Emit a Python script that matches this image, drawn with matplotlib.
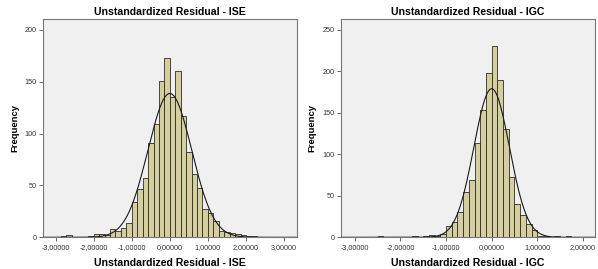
"""
Histograms of unstandardized residuals (ISE and IGC) with normal curves
"""
import numpy as np
import matplotlib
matplotlib.use("Agg")
import matplotlib.pyplot as plt
from matplotlib.ticker import FuncFormatter

plt.rcParams['font.family'] = ['Liberation Sans', 'DejaVu Sans']

# ISE residuals: bins of width 1/7 starting at -20/7
ISE_FIRST_BIN = -20
ISE_BIN_WIDTH = 1 / 7
ISE_COUNTS = [1, 2, 0, 0, 0, 1, 3, 3, 2, 8, 6, 9, 14, 34, 47, 57, 91, 109,
              151, 173, 135, 160, 117, 82, 61, 48, 27, 23, 16, 6, 5, 4, 3, 2,
              1, 1]
ISE_MEAN = 0.0
ISE_SD = 0.575
ISE_XTICKS = [-3, -2, -1, 0, 1, 2, 3]
ISE_YTICKS = [0, 50, 100, 150, 200]

# IGC residuals: bins of width 0.125 starting at -2.5
IGC_FIRST_BIN = -20
IGC_BIN_WIDTH = 0.125
IGC_COUNTS = [1, 0, 0, 0, 0, 0, 2, 0, 2, 3, 2, 4, 14, 19, 30, 55, 69, 114,
              153, 198, 231, 190, 131, 73, 40, 27, 16, 9, 1, 1, 0, 1, 0, 1]
IGC_MEAN = 0.0
IGC_SD = 0.39
IGC_XTICKS = [-3, -2, -1, 0, 1, 2]
IGC_YTICKS = [0, 50, 100, 150, 200, 250]

N_CASES = 1400

BAR_COLOR = '#d4cf9d'
PANEL_BG = '#f0f0f0'


def fmt_x(v, pos):
    return f"{v:.5f}".replace('.', ',')


def draw_hist(ax, first, width, counts, mean, sd, title, xlim, ylim, xticks, yticks):
    counts = np.array(counts, dtype=float)
    lefts = (first + np.arange(len(counts))) * width
    keep = counts > 0
    ax.bar(lefts[keep], counts[keep], width=width, align='edge',
           color=BAR_COLOR, edgecolor='#2b2b2b', linewidth=0.6, zorder=2)
    xs = np.linspace(xlim[0], xlim[1], 400)
    ys = N_CASES * width / (sd * np.sqrt(2 * np.pi)) * np.exp(-0.5 * ((xs - mean) / sd) ** 2)
    ax.plot(xs, ys, color='#1a1a1a', linewidth=0.8, zorder=3)

    ax.set_facecolor(PANEL_BG)
    ax.set_xlim(*xlim)
    ax.set_ylim(*ylim)
    ax.set_xticks(xticks)
    ax.set_yticks(yticks)
    ax.xaxis.set_major_formatter(FuncFormatter(fmt_x))
    ax.tick_params(axis='both', length=3, width=0.6, color='#555555',
                   labelsize=5.2, labelcolor='#333333', pad=1.5)
    for sp in ax.spines.values():
        sp.set_color('#777777')
        sp.set_linewidth(0.8)
    ax.set_title(title, fontsize=7.6, fontweight='bold', pad=3)
    ax.set_xlabel(title, fontsize=7.6, fontweight='bold', labelpad=5)
    ax.set_ylabel('Frequency', fontsize=6.8, fontweight='bold', labelpad=4)


fig = plt.figure(figsize=(5.98, 2.69), dpi=100)
ax1 = fig.add_axes([0.0719, 0.1178, 0.4242, 0.8116])
ax2 = fig.add_axes([0.5697, 0.1178, 0.4248, 0.8116])

draw_hist(ax1, ISE_FIRST_BIN, ISE_BIN_WIDTH, ISE_COUNTS, ISE_MEAN, ISE_SD,
          'Unstandardized Residual - ISE', (-3.33, 3.33), (0, 210.6),
          ISE_XTICKS, ISE_YTICKS)
draw_hist(ax2, IGC_FIRST_BIN, IGC_BIN_WIDTH, IGC_COUNTS, IGC_MEAN, IGC_SD,
          'Unstandardized Residual - IGC', (-3.31, 2.26), (0, 263),
          IGC_XTICKS, IGC_YTICKS)

fig.savefig('out.png', dpi=100)
